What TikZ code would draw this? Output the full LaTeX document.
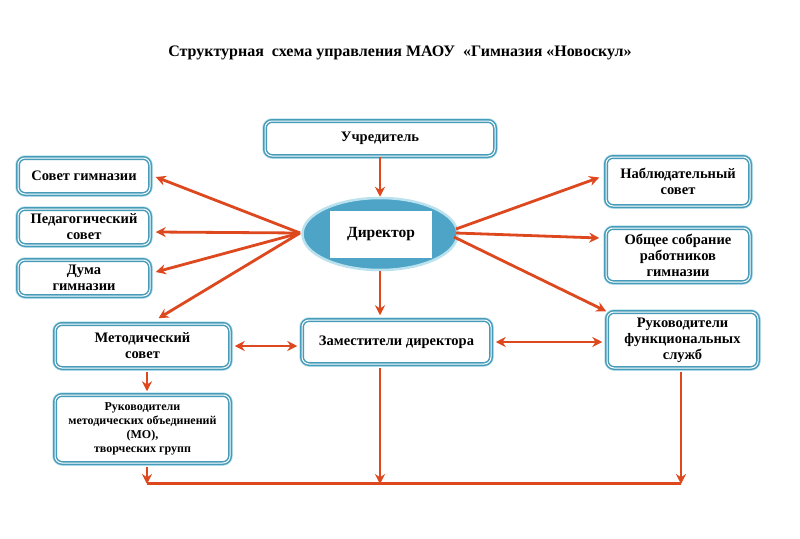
\documentclass[tikz,border=0pt]{standalone}
\usepackage{fontspec}
\setmainfont{Liberation Serif}
\usetikzlibrary{shapes.geometric,arrows.meta,calc}
\definecolor{teal1}{RGB}{70,155,185}
\definecolor{teal2}{RGB}{185,225,238}
\definecolor{efill}{RGB}{78,164,198}
\definecolor{arr}{RGB}{222,72,30}
\tikzset{
  box/.style={preaction={draw=teal2, line width=5.5pt}, draw=teal1, double=white, double distance=1pt, line width=1.5pt,
    rounded corners=7pt, fill=white, align=center, font=\bfseries\fontsize{14.5}{16}\selectfont,
    inner sep=2pt},
  conn/.style={draw=arr, line width=2.8pt, -{Stealth[length=10pt,width=10pt]}},
  conn2/.style={draw=arr, line width=2.8pt, {Stealth[length=10pt,width=10pt]}-{Stealth[length=10pt,width=10pt]}},
  plain/.style={draw=arr, line width=2.2pt}
}
\begin{document}
\begin{tikzpicture}[x=1pt,y=-1pt]
\useasboundingbox (0,0) rectangle (800,538);
\fill[white] (0,0) rectangle (800,538);
\node[font=\bfseries\fontsize{16}{18}\selectfont] (title) at (400,53) {Структурная \ схема управления МАОУ \ «Гимназия «Новоскул»};

\node[box, minimum width=230pt, minimum height=35pt] (uch) at (380,138.5) {Учредитель};
\node[box, minimum width=132pt, minimum height=36pt] (sov) at (84,176) {Совет гимназии};
\node[box, minimum width=132pt, minimum height=36pt] (ped) at (84,227) {Педагогический\\совет};
\node[box, minimum width=132pt, minimum height=36pt] (duma) at (84,278) {Дума\\гимназии};

\node[ellipse, draw=teal2, line width=2.5pt, fill=efill, minimum width=155pt, minimum height=72pt] (dir) at (380,234) {};
\node[fill=white, minimum width=102pt, minimum height=47pt, font=\bfseries\fontsize{15.5}{17}\selectfont] (dirt) at (381,234) {Директор};

\node[box, minimum width=144pt, minimum height=49pt] (nab) at (678,181.5) {Наблюдательный\\совет};
\node[box, minimum width=144pt, minimum height=54pt] (obs) at (678,255) {Общее собрание\\работников\\гимназии};

\node[box, minimum width=175pt, minimum height=44pt] (met) at (142.5,346) {Методический\\совет};
\node[box, minimum width=189pt, minimum height=44pt] (zam) at (396.5,342) {Заместители директора};
\node[box, minimum width=151pt, minimum height=56pt] (ruf) at (682.5,340) {Руководители\\функциональных\\служб};
\node[box, minimum width=175pt, minimum height=68pt, font=\bfseries\fontsize{12}{14}\selectfont] (rmo) at (142.5,429) {Руководители\\методических объединений\\(МО),\\творческих групп};

\coordinate (dl) at (300,233);
\coordinate (dr) at (456,233);
\coordinate (bl) at (147,484);
\coordinate (bm) at (380,484);
\coordinate (br) at (681,484);

\draw[conn] (uch.south) -- (dir.north);
\draw[conn] (dl) -- ($(sov.east)+(5,1)$);
\draw[conn] (dl) -- ($(ped.east)+(5,5)$);
\draw[conn] (dl) -- ($(duma.east)+(5,-6)$);
\draw[conn] (dl) -- ($(met.north)+(16,-5)$);
\draw[conn] ($(dr)+(0,-4)$) -- ($(nab.west)+(-6,-4)$);
\draw[conn] (dr) -- ($(obs.west)+(-6,-17)$);
\draw[conn] ($(dr)+(-2,4)$) -- ($(ruf.north west)+(0,0)$);
\draw[conn] (dir.south) -- ($(zam.north -| dir.south)+(0,-4)$);
\draw[conn2] ($(met.east)+(4,0)$) -- ($(met.east -| zam.west)+(-4,0)$);
\draw[conn2] ($(zam.east)+(4,0)$) -- ($(zam.east -| ruf.west)+(-4,0)$);
\draw[conn] ($(met.south -| bl)+(0,3)$) -- ($(rmo.north -| bl)+(0,-3)$);
\draw[conn] ($(rmo.south -| bl)+(0,3)$) -- (bl);
\draw[conn] ($(zam.south -| bm)+(0,3)$) -- (bm);
\draw[conn] ($(ruf.south -| br)+(0,3)$) -- (br);
\draw[plain] ($(bl)+(0,-0.5)$) -- ($(br)+(0,-0.5)$);
\end{tikzpicture}
\end{document}
